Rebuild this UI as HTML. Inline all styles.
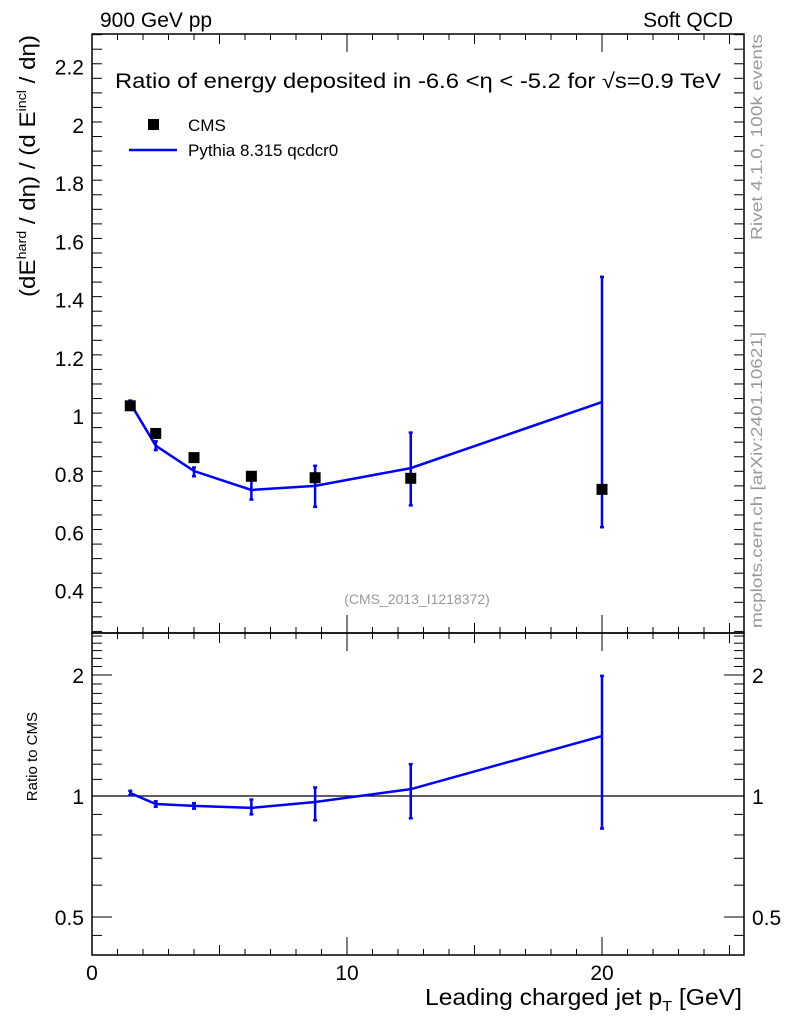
<!DOCTYPE html>
<html><head><meta charset="utf-8"><style>
body{margin:0;background:#fff;}
svg{font-family:"Liberation Sans","DejaVu Sans",sans-serif;}
</style></head><body>
<svg id="c" width="786" height="1024" xmlns="http://www.w3.org/2000/svg"></svg>
<script>
const xBins=[1.5,2.5,4,6.25,8.75,12.5,20];
const cmsVals=[1.035,0.94,0.857,0.793,0.788,0.786,0.748];
const mcVals=[1.044,0.898,0.811,0.746,0.76,0.821,1.048];
const mcLo=[1.033,0.883,0.793,0.713,0.688,0.693,0.618];
const mcHi=[1.053,0.913,0.823,0.78,0.829,0.943,1.478];
const ratVals=[1.017,0.955,0.945,0.934,0.966,1.04,1.41];
const ratLo=[1.005,0.94,0.93,0.9,0.87,0.88,0.83];
const ratHi=[1.03,0.97,0.96,0.98,1.05,1.2,1.99];
const xTicks=[0,10,20];
const yTicks=[0.4,0.6,0.8,1,1.2,1.4,1.6,1.8,2,2.2];
const rTicks=[0.5,1,2];

const svg=document.getElementById('c');
const NS='http://www.w3.org/2000/svg';
function mk(t,a,p){const e=document.createElementNS(NS,t);for(const k in a)e.setAttribute(k,a[k]);(p||svg).appendChild(e);return e;}
const L=92,R=744,T=34,M=633,B=955;
const X=v=>L+(v)*25.5;
const Y=v=>416-(v-1)*291.1;
const RY=v=>796-Math.log2(v)*121;

let f=mk('rect',{x:L,y:T,width:R-L,height:M-T,fill:'none',stroke:'#000','stroke-width':1.5});

f=mk('rect',{x:L,y:M,width:R-L,height:B-M,fill:'none',stroke:'#000','stroke-width':1.5});


for(let v=0;v<=25;v++){
  const len=v%10==0?18:(v%5==0?10:6);
  [[T,1],[M,-1],[M,1],[B,-1]].forEach(([y0,d])=>{
    const l=mk('line',{x1:X(v),x2:X(v),y1:y0,y2:y0+d*len,stroke:'#000','stroke-width':1});
    
  });
}
xTicks.forEach(v=>{const t=mk('text',{x:X(v),y:980,'font-size':21,'text-anchor':'middle'});t.textContent=v;
});
for(let i=0;i<=42;i++){const v=0.26+i*0.05;const vv=Math.round(v*100)/100;if(Y(vv)<T||Y(vv)>M)continue;
  const major=Math.abs((vv*10)%2)<0.01||Math.abs((vv*10)%2-2)<0.01;
  const len=major?20:10;
  [[L,1],[R,-1]].forEach(([x0,d])=>{const l=mk('line',{x1:x0,x2:x0+d*len,y1:Y(vv),y2:Y(vv),stroke:'#000'});
  });
}
yTicks.forEach(v=>{const t=mk('text',{x:84,y:Y(v)+8,'font-size':21,'text-anchor':'end'});t.textContent=(Math.round(v*10)/10).toString();
});
[0.45,0.5,0.6,0.7,0.8,0.9,1,1.1,1.2,1.3,1.4,1.5,1.6,1.7,1.8,1.9,2,2.1,2.2,2.3,2.4,2.5].forEach(v=>{
  const major=(v==0.5||v==1||v==2);const len=major?20:10;
  [[L,1],[R,-1]].forEach(([x0,d])=>{const l=mk('line',{x1:x0,x2:x0+d*len,y1:RY(v),y2:RY(v),stroke:'#000'});
  });
});
rTicks.forEach(v=>{[[84,'end'],[752,'start']].forEach(([x,a])=>{const t=mk('text',{x:x,y:RY(v)+8,'font-size':21,'text-anchor':a});t.textContent=v;
});});
let ln=mk('line',{x1:L,x2:R,y1:RY(1),y2:RY(1),stroke:'#000','stroke-width':1.3});


const blue='#0000ff';
xBins.forEach((x,i)=>{
  let e=mk('line',{x1:X(x),x2:X(x),y1:Y(mcLo[i]),y2:Y(mcHi[i]),stroke:blue,'stroke-width':2.5});
  
  [mcLo[i],mcHi[i]].forEach(v=>{const c=mk('line',{x1:X(x)-2,x2:X(x)+2,y1:Y(v),y2:Y(v),stroke:blue,'stroke-width':2.5});
  });
  e=mk('line',{x1:X(x),x2:X(x),y1:RY(ratLo[i]),y2:RY(ratHi[i]),stroke:blue,'stroke-width':2.5});
  
  [ratLo[i],ratHi[i]].forEach(v=>{const c=mk('line',{x1:X(x)-2,x2:X(x)+2,y1:RY(v),y2:RY(v),stroke:blue,'stroke-width':2.5});
  });
});
let p=mk('polyline',{points:xBins.map((x,i)=>X(x)+','+Y(mcVals[i])).join(' '),fill:'none',stroke:blue,'stroke-width':2.5});

p=mk('polyline',{points:xBins.map((x,i)=>X(x)+','+RY(ratVals[i])).join(' '),fill:'none',stroke:blue,'stroke-width':2.5});

xBins.forEach((x,i)=>{const r=mk('rect',{x:X(x)-5.5,y:Y(cmsVals[i])-5.5,width:11,height:11,fill:'#000'});
});

function txt(s,a,name){const t=mk('text',a);t.innerHTML=s;return t;}
txt('900 GeV pp',{x:100,y:27,'font-size':21},'energy-label');
txt('Soft QCD',{x:733,y:27,'font-size':21,'text-anchor':'end'},'process-label');
txt('Ratio of energy deposited in -6.6 &lt;η &lt; -5.2 for √s=0.9 TeV',{x:115,y:88,'font-size':21,textLength:606,lengthAdjust:'spacingAndGlyphs'},'plot-title');
let lr=mk('rect',{x:148,y:119,width:11,height:11,fill:'#000'});
txt('CMS',{x:188,y:131,'font-size':17},'legend-cms');
let ll=mk('line',{x1:129,x2:177,y1:150,y2:150,stroke:blue,'stroke-width':2.5});
txt('Pythia 8.315 qcdcr0',{x:188,y:156,'font-size':17},'legend-pythia');
txt('(CMS_2013_I1218372)',{x:417,y:604,'font-size':14,fill:'#999','text-anchor':'middle'},'analysis-id');
txt('Leading charged jet p<tspan dy="6" font-size="15">T</tspan><tspan dy="-6"> [GeV]</tspan>',{x:425,y:1005,'font-size':23,textLength:317,lengthAdjust:'spacingAndGlyphs'},'x-axis-title');
txt('(dE<tspan dy="-9" font-size="13">hard</tspan><tspan dy="9"> / dη) / (d E</tspan><tspan dy="-9" font-size="13">incl</tspan><tspan dy="9"> / dη)</tspan>',{x:0,y:0,'font-size':22,textLength:262,lengthAdjust:'spacingAndGlyphs',transform:'translate(35,297) rotate(-90)'},'y-axis-title');
txt('Ratio to CMS',{x:0,y:0,'font-size':15,'text-anchor':'end',transform:'translate(37,712) rotate(-90)'},'ratio-axis-title');
txt('Rivet 4.1.0,  100k events',{x:0,y:0,'font-size':16,fill:'#999',textLength:206,lengthAdjust:'spacingAndGlyphs',transform:'translate(762,240) rotate(-90)'},'rivet-label');
txt('mcplots.cern.ch [arXiv:2401.10621]',{x:0,y:0,'font-size':16,fill:'#999',textLength:296,lengthAdjust:'spacingAndGlyphs',transform:'translate(762,628) rotate(-90)'},'mcplots-label');
</script>
</body></html>
